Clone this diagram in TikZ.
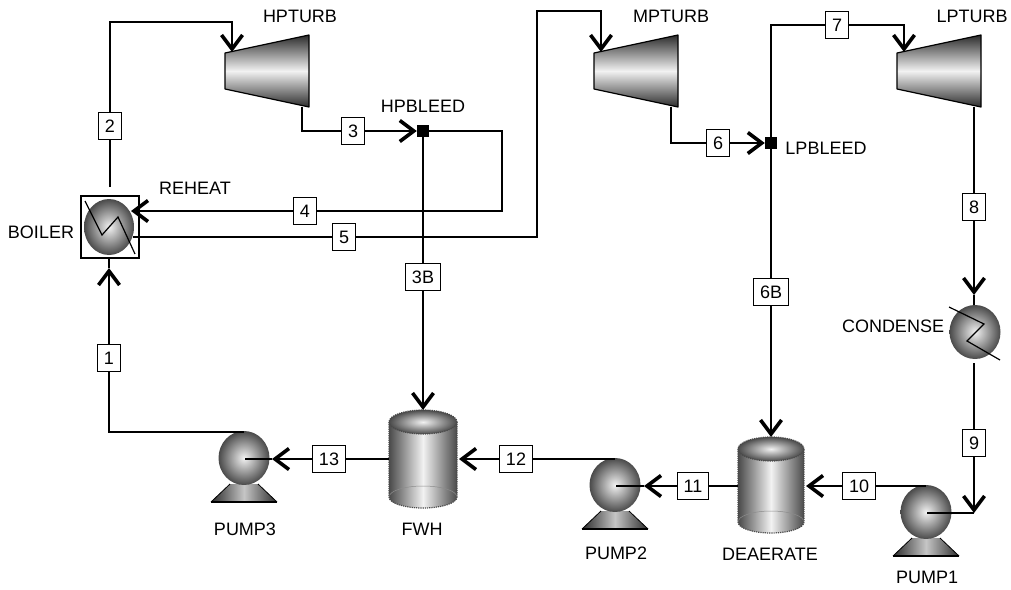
\documentclass[tikz,border=0pt]{standalone}
\usepackage{fontspec}
\setmainfont{Liberation Sans}
\usetikzlibrary{arrows.meta,positioning,calc}
\usepackage{xcolor}
\definecolor{darkshade}{HTML}{4A4A4A}
\definecolor{deepshade}{HTML}{2C2C2C}
\definecolor{midshade}{HTML}{8C8C8C}
\definecolor{lightshade}{HTML}{F2F2F2}
\tikzset{
  pipe/.style={line width=1.2pt,draw=black},
  flow/.style={pipe,-{Straight Barb[length=14pt,width=21pt,line width=3.6pt]}},
  stream/.style={draw=black,line width=1.2pt,fill=white,inner xsep=6.5pt,inner ysep=0pt,minimum height=27pt,font=\fontsize{18}{20}\selectfont},
  tag/.style={inner sep=0pt,font=\fontsize{18}{20}\selectfont},
  bleed/.style={fill=black,inner sep=0pt,minimum size=12pt},
  ball/.style={inner color=lightshade,outer color=darkshade},
  outline/.style={line width=1.2pt,draw=black}
}
\newcommand{\turbunit}[3]{
  \begin{scope}[shift={(#2,#3)}]
    \shade[top color=deepshade,bottom color=deepshade,middle color=lightshade] (0,18) -- (84,0) -- (84,72) -- (0,54) -- cycle;
    \draw[outline,line join=round] (0,18) -- (84,0) -- (84,72) -- (0,54) -- cycle;
    \coordinate (#1-in) at (7,17);
    \coordinate (#1-out) at (77,72);
  \end{scope}
}
\newcommand{\pumpunit}[3]{
  \begin{scope}[shift={(#2,#3)}]
    \shade[left color=deepshade,right color=deepshade,middle color=midshade!50] (-14,26) -- (14,26) -- (33,44) -- (-33,44) -- cycle;
    \draw[outline] (-33,44) -- (33,44);
    \draw[line width=0.8pt,draw=black] (-14,26) -- (-33,44) (14,26) -- (33,44);
    \shade[ball] (0,0) ellipse (25.5 and 27);
    \coordinate (#1-top) at (0,-26);
    \coordinate (#1-mid) at (1,1);
  \end{scope}
}
\newcommand{\tankunit}[5]{
  \begin{scope}[shift={(#2,#3)}]
    \shade[left color=darkshade,right color=darkshade,middle color=lightshade] (-#4,0) -- (-#4,#5) arc (180:0:#4 and 11) -- (#4,0) -- cycle;
    \draw[draw=midshade,line width=0.5pt] (-#4,#5) arc (180:360:#4 and 11);
    \draw[densely dotted,line width=1.2pt,draw=darkshade] (-#4,0) -- (-#4,#5) arc (180:0:#4 and 11) -- (#4,0);
    \shade[ball] (0,0) ellipse (#4 and 12);
    \draw[densely dotted,line width=1.2pt,draw=darkshade] (0,0) ellipse (#4 and 12);
    \coordinate (#1-top) at (0,-12);
    \coordinate (#1-east) at (#4+2,37);
    \coordinate (#1-west) at (-#4,37);
  \end{scope}
}
\begin{document}
\begin{tikzpicture}[x=1pt,y=-1pt]
  \useasboundingbox (0,0) rectangle (1011,589);
  \turbunit{hpturb}{225}{35}
  \turbunit{mpturb}{594}{35}
  \turbunit{lpturb}{897}{35}
  \shade[ball] (109,227) ellipse (25 and 28);
  \draw[outline] (81,196) rectangle (139,258);
  \shade[ball] (975,332) ellipse (25.5 and 27);
  \pumpunit{pumpone}{926}{512}
  \pumpunit{pumptwo}{615}{485}
  \pumpunit{pumpthree}{244}{458}
  \tankunit{deaerate}{771}{449}{33}{73}
  \tankunit{fwh}{423}{422}{34}{75}
  \draw[pipe] (85,201) -- (102,235) -- (118,217) -- (135,254);
  \draw[pipe] (949,307) -- (984,324) -- (967,341) -- (1000,360);

  \coordinate (boiler-top) at (110,187);
  \coordinate (boiler-east) at (131,211);
  \coordinate (boiler-out) at (133,237);
  \coordinate (boiler-tip) at (109,268);
  \coordinate (boiler-bot) at (109,258);
  \coordinate (cond-tip) at (974,295);
  \coordinate (cond-top) at (974,305);
  \coordinate (cond-bot) at (974,363);

  \node[stream] (s1) at (109,358) {1};
  \node[stream] (s2) at (110,126) {2};
  \node[stream] (s3) at (353,131) {3};
  \node[stream] (s3b) at (423,277) {3B};
  \node[stream] (s4) at (305,211) {4};
  \node[stream] (s5) at (344,237) {5};
  \node[stream] (s6) at (718,143) {6};
  \node[stream] (s6b) at (771,292) {6B};
  \node[stream] (s7) at (837,25) {7};
  \node[stream] (s8) at (974,207) {8};
  \node[stream] (s9) at (974,443) {9};
  \node[stream] (s10) at (859,486) {10};
  \node[stream] (s11) at (693,486) {11};
  \node[stream] (s12) at (516,459) {12};
  \node[stream] (s13) at (329,459) {13};
  \node[bleed] (hpbleed) at (423,131) {};
  \node[bleed] (lpbleed) at (771,143) {};

  \node[tag] (hpturb-lab) at (300,16) {HPTURB};
  \node[tag] (mpturb-lab) at (671,16) {MPTURB};
  \node[tag] (lpturb-lab) at (972,16) {LPTURB};
  \node[tag] (hpbleed-lab) at (423,106) {HPBLEED};
  \node[tag] (lpbleed-lab) at (826,148) {LPBLEED};
  \node[tag] (reheat-lab) at (195,188) {REHEAT};
  \node[tag] (boiler-lab) at (41,232) {BOILER};
  \node[tag] (cond-lab) at (893,326) {CONDENSE};
  \node[tag] (pumpthree-lab) at (245,529) {PUMP3};
  \node[tag] (fwh-lab) at (422,529) {FWH};
  \node[tag] (pumptwo-lab) at (616,553) {PUMP2};
  \node[tag] (deaerate-lab) at (770,554) {DEAERATE};
  \node[tag] (pumpone-lab) at (927,577) {PUMP1};

  \coordinate (c2) at (232,22);
  \coordinate (c4) at (502,211);
  \coordinate (c5a) at (537,237);
  \coordinate (c5b) at (601,11);
  \coordinate (c7) at (904,25);
  \coordinate (c9) at (974,513);

  \draw[pipe] (boiler-top) -- (s2);
  \draw[flow] (s2) |- (c2) -- (hpturb-in);
  \draw[pipe] (hpturb-out) |- (s3);
  \draw[flow] (s3) -- (hpbleed);
  \draw[pipe] (hpbleed) -| (c4) -- (s4);
  \draw[flow] (s4) -- (boiler-east);
  \draw[pipe] (boiler-out) -- (s5);
  \draw[flow] (s5) -- (c5a) |- (c5b) -- (mpturb-in);
  \draw[pipe] (mpturb-out) |- (s6);
  \draw[flow] (s6) -- (lpbleed);
  \draw[pipe] (lpbleed) |- (s7);
  \draw[flow] (s7) -| (c7) -- (lpturb-in);
  \draw[pipe] (hpbleed) -- (s3b);
  \draw[flow] (s3b) -- (fwh-top);
  \draw[pipe] (lpbleed) -- (s6b);
  \draw[flow] (s6b) -- (deaerate-top);
  \draw[pipe] (lpturb-out) -- (s8);
  \draw[flow] (s8) -- (cond-tip);
  \draw[pipe] (cond-tip) -- (cond-top);
  \draw[pipe] (cond-bot) -- (s9);
  \draw[flow] (s9) -- (c9);
  \draw[pipe] (c9) -- (pumpone-mid);
  \draw[pipe] (pumpone-top) -- (s10);
  \draw[flow] (s10) -- (deaerate-east);
  \draw[pipe] (deaerate-west) -- (s11);
  \draw[flow] (s11) -- ($(pumptwo-mid)+(28,0)$);
  \draw[pipe] ($(pumptwo-mid)+(28,0)$) -- (pumptwo-mid);
  \draw[pipe] (pumptwo-top) -- (s12);
  \draw[flow] (s12) -- (fwh-east);
  \draw[pipe] (fwh-west) -- (s13);
  \draw[flow] (s13) -- ($(pumpthree-mid)+(27,0)$);
  \draw[pipe] ($(pumpthree-mid)+(27,0)$) -- (pumpthree-mid);
  \draw[pipe] (pumpthree-top) -| (s1);
  \draw[flow] (s1) -- (boiler-tip);
  \draw[pipe] (boiler-tip) -- (boiler-bot);
\end{tikzpicture}
\end{document}
